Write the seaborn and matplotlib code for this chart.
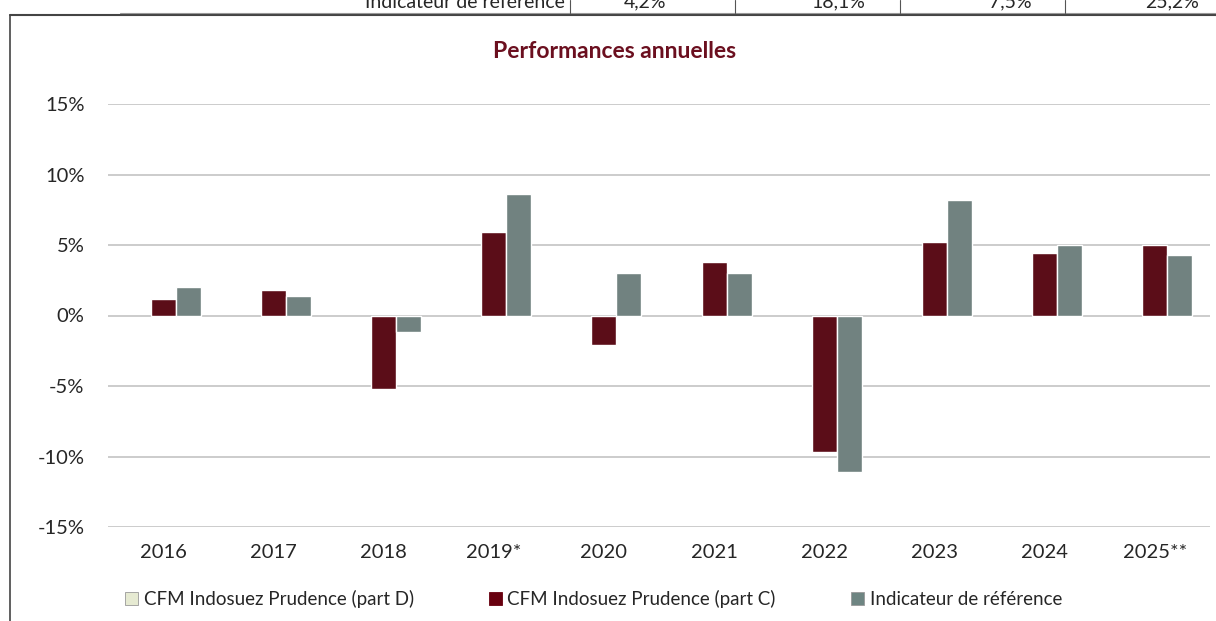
import pandas as pd
import numpy as np
import matplotlib.pyplot as plt
from matplotlib.patches import Patch
from matplotlib.lines import Line2D
import seaborn as sns

# données (en %)
annees = ['2016', '2017', '2018', '2019*', '2020', '2021', '2022', '2023', '2024', '2025**']
part_d = [np.nan] * 10
part_c = [1.2, 1.8, -5.2, 5.9, -2.1, 3.8, -9.7, 5.2, 4.4, 5.0]
indicateur = [2.0, 1.4, -1.2, 8.6, 3.0, 3.0, -11.1, 8.2, 5.0, 4.3]
series = ['CFM Indosuez Prudence (part D)', 'CFM Indosuez Prudence (part C)', 'Indicateur de référence']
couleurs = ['#e6ead2', '#68000f', '#6e8582']

# ligne du tableau coupée en haut
tab_label = 'Indicateur de référence'
tab_vals = ['4,2%', '18,1%', '7,5%', '25,2%']

df = pd.DataFrame({
    'annee': annees * 3,
    'serie': [series[0]] * 10 + [series[1]] * 10 + [series[2]] * 10,
    'perf': part_d + part_c + indicateur,
})

sns.set_style('white')
plt.rcParams['font.family'] = ['Lato', 'DejaVu Sans']

fig = plt.figure(figsize=(12.16, 6.21), dpi=100)
ax = fig.add_axes([108 / 1216, 1 - 527 / 621, (1210 - 108) / 1216, (527 - 104) / 621])

sns.barplot(data=df, x='annee', y='perf', hue='serie', hue_order=series,
            palette=couleurs, width=0.68, ax=ax, legend=False, errorbar=None)

ax.set_ylim(-15, 15)
ax.set_yticks([-15, -10, -5, 0, 5, 10, 15])
ax.set_yticklabels([f'{v}%' for v in [-15, -10, -5, 0, 5, 10, 15]])
ax.yaxis.grid(True, color='#cccccc', linewidth=1.4)
ax.set_axisbelow(True)
ax.set_xlabel('')
ax.set_ylabel('')
for s in ax.spines.values():
    s.set_visible(False)
ax.tick_params(axis='y', length=0, pad=17, labelsize=14.5)
ax.tick_params(axis='x', length=0, pad=12, labelsize=14.5)

fig.text(0.505, 1 - 52 / 621, 'Performances annuelles', ha='center', va='center',
         fontsize=16.5, fontweight='bold', color='#6b0f1f')

handles = [Patch(facecolor=c, edgecolor='#999999' if i != 1 else c, linewidth=0.6)
           for i, c in enumerate(couleurs)]
fig.legend(handles, series, loc='center', bbox_to_anchor=(0.488, 1 - 599 / 621),
           ncol=3, frameon=False, fontsize=13.5, handlelength=0.7, handleheight=0.7,
           handletextpad=0.3, columnspacing=4.0)

# cadre
fig.add_artist(Line2D([10 / 1216, 1], [1 - 15 / 621] * 2, color='#444444', linewidth=1.5))
fig.add_artist(Line2D([10 / 1216] * 2, [0, 1 - 15 / 621], color='#444444', linewidth=1.2))
fig.add_artist(Line2D([120 / 1216, 1], [1 - 13 / 621] * 2, color='#999999', linewidth=0.8))

# ligne du tableau (coupée, comme sur l'original)
fig.text(565 / 1216, 1 - 2 / 621, tab_label, ha='right', va='center', fontsize=14)
for x, t in zip([645, 838, 1010, 1172], tab_vals):
    fig.text(x / 1216, 1 - 2 / 621, t, ha='center', va='center', fontsize=14)
for x in [570, 735, 900, 1065]:
    fig.add_artist(Line2D([x / 1216] * 2, [1 - 13 / 621, 1], color='#555555', linewidth=0.8))

fig.savefig('out.png', dpi=100)
